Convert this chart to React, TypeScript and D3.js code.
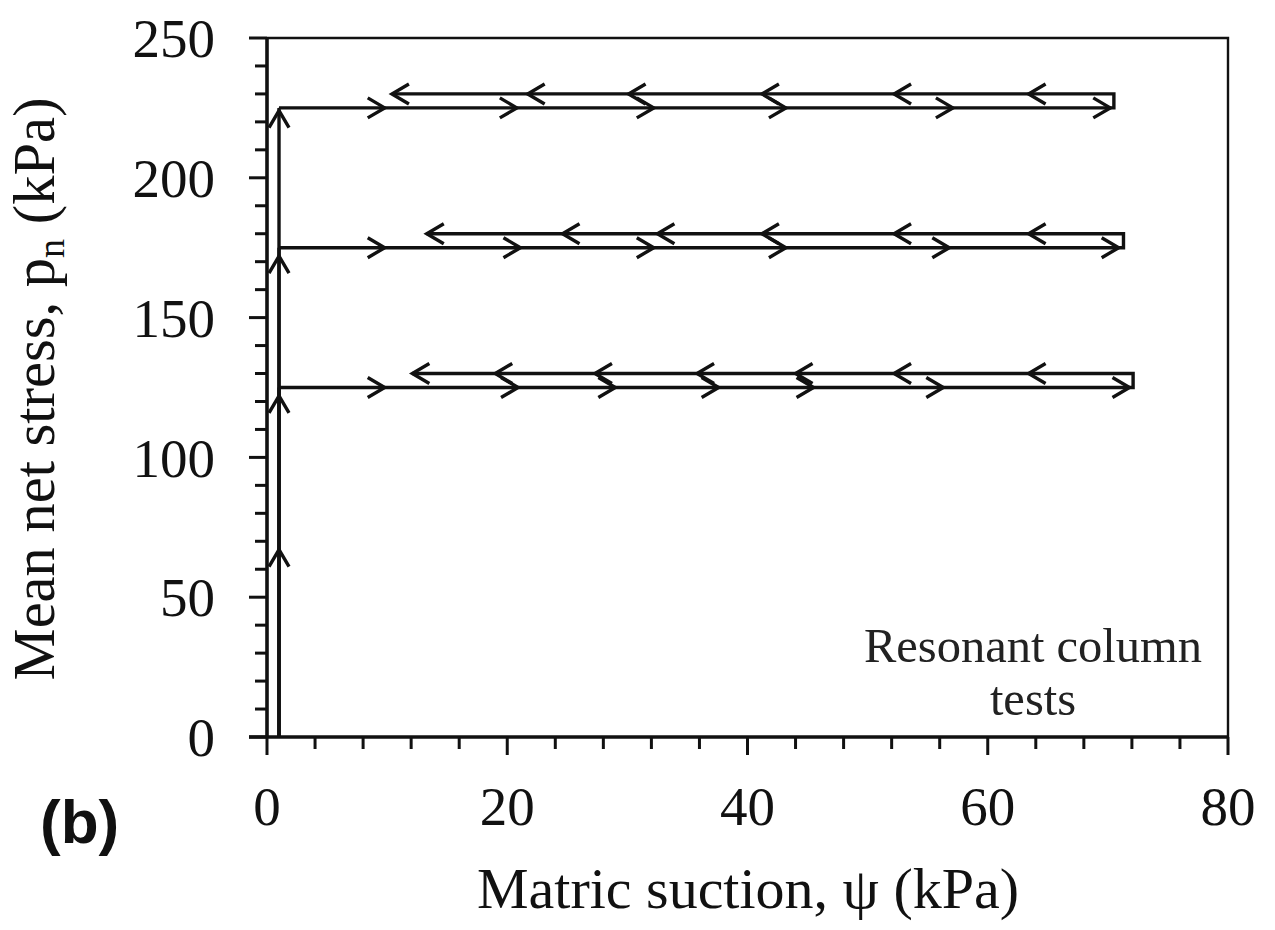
import React from "react";
import * as d3 from "d3";

// ---- data ----
const netStressLevels = [125, 175, 225]; // kPa, loading / drying paths
const returnStressLevels = [130, 180, 230]; // kPa, wetting path drawn slightly offset
const loadingSuction = 1; // kPa
const maxSuction = [72.1, 71.3, 70.5]; // kPa
const minReturnSuction = [12.1, 13.3, 10.4]; // kPa
const loadingArrowStress = [67, 122, 172, 224]; // kPa
const dryingArrowSuction = [
  [9.8, 20.9, 29.0, 37.6, 45.5, 56.3, 71.8],
  [9.8, 21.1, 32.2, 43.2, 56.8, 70.9],
  [9.8, 20.8, 32.2, 43.2, 57.1, 70.2],
];
const wettingArrowSuction = [
  [12.1, 19.0, 27.3, 35.8, 44.0, 52.2, 63.4],
  [13.3, 24.6, 32.5, 41.2, 52.2, 63.4],
  [10.4, 21.7, 30.1, 41.2, 52.2, 63.4],
];
const xMajorTicks = [0, 20, 40, 60, 80];
const yMajorTicks = [0, 50, 100, 150, 200, 250];
const xMinorStep = 4;
const yMinorStep = 10;

const W = 1275;
const H = 930;
const left = 267;
const right = 1228;
const top = 38;
const bottom = 737;

const serif = "'Liberation Serif', 'Times New Roman', serif";

export default function App() {
  const x = d3.scaleLinear().domain([0, 80]).range([left, right]);
  const y = d3.scaleLinear().domain([0, 250]).range([bottom, top]);
  const line = d3
    .line<[number, number]>()
    .x((d) => x(d[0]))
    .y((d) => y(d[1]));

  const xMinor = d3.range(0, 80 + 0.001, xMinorStep);
  const yMinor = d3.range(0, 250 + 0.001, yMinorStep);

  const chevron = (px: number, py: number, ux: number, uy: number) => {
    const L = 17;
    const Wd = 10;
    const nx = -uy;
    const ny = ux;
    const ax = px - L * ux + Wd * nx;
    const ay = py - L * uy + Wd * ny;
    const bx = px - L * ux - Wd * nx;
    const by = py - L * uy - Wd * ny;
    return `M${ax},${ay}L${px},${py}L${bx},${by}`;
  };

  const sw = 3.4;

  return (
    <svg
      width={W}
      height={H}
      style={{ position: "absolute", left: 0, top: 0, background: "#fff" }}
    >
      <rect x={0} y={0} width={W} height={H} fill="#fff" />
      {/* frame */}
      <path
        d={`M${left},${top}L${right},${top}L${right},${bottom}`}
        fill="none"
        stroke="#111"
        strokeWidth={2.4}
      />
      {/* axes */}
      <line x1={left} y1={top - 1} x2={left} y2={bottom} stroke="#111" strokeWidth={3.6} />
      <line x1={left - 18} y1={bottom} x2={right} y2={bottom} stroke="#111" strokeWidth={3.6} />
      {/* y ticks */}
      {yMinor.map((v) => {
        const major = yMajorTicks.includes(Math.round(v));
        return (
          <line
            key={"yt" + v}
            x1={left - (major ? 18 : 12)}
            x2={left}
            y1={y(v)}
            y2={y(v)}
            stroke="#111"
            strokeWidth={3}
          />
        );
      })}
      {/* x ticks */}
      {xMinor.map((v) => {
        const major = xMajorTicks.includes(Math.round(v));
        return (
          <line
            key={"xt" + v}
            x1={x(v)}
            x2={x(v)}
            y1={bottom}
            y2={bottom + (major ? 18 : 12)}
            stroke="#111"
            strokeWidth={3}
          />
        );
      })}
      {/* tick labels */}
      {yMajorTicks.map((v) => (
        <text
          key={"yl" + v}
          x={215}
          y={y(v)}
          dy="0.35em"
          textAnchor="end"
          fontFamily={serif}
          fontSize={55}
          fill="#111"
        >
          {v}
        </text>
      ))}
      {xMajorTicks.map((v) => (
        <text
          key={"xl" + v}
          x={x(v)}
          y={825}
          textAnchor="middle"
          fontFamily={serif}
          fontSize={55}
          fill="#111"
        >
          {v}
        </text>
      ))}
      {/* axis titles */}
      <text
        x={748}
        y={908}
        textAnchor="middle"
        fontFamily={serif}
        fontSize={58}
        fill="#111"
      >
        Matric suction, ψ (kPa)
      </text>
      <text
        transform={`translate(54,389) rotate(-90)`}
        textAnchor="middle"
        fontFamily={serif}
        fontSize={58.5}
        fill="#111"
      >
        Mean net stress, p
        <tspan fontSize={38} dy={10}>n</tspan>
        <tspan dy={-10}> (kPa)</tspan>
      </text>
      <text
        x={40}
        y={843}
        fontFamily="'Liberation Sans', Arial, sans-serif"
        fontWeight="bold"
        fontSize={62}
        fill="#111"
      >
        (b)
      </text>
      {/* annotation */}
      <text
        x={1033}
        y={662}
        textAnchor="middle"
        fontFamily={serif}
        fontSize={48.5}
        fill="#222"
      >
        Resonant column
      </text>
      <text
        x={1033}
        y={715}
        textAnchor="middle"
        fontFamily={serif}
        fontSize={48.5}
        fill="#222"
      >
        tests
      </text>

      {/* stress paths */}
      {netStressLevels.map((p, i) => (
        <g key={"path" + i} fill="none" stroke="#111" strokeWidth={sw}>
          <path
            d={
              line([
                [loadingSuction, 0],
                [loadingSuction, p],
              ]) || ""
            }
          />
          <path
            d={
              line([
                [loadingSuction, p],
                [maxSuction[i], p],
                [maxSuction[i], returnStressLevels[i]],
                [minReturnSuction[i], returnStressLevels[i]],
              ]) || ""
            }
          />
          {dryingArrowSuction[i].map((s, j) => (
            <path key={"d" + j} d={chevron(x(s), y(p), 1, 0)} />
          ))}
          {wettingArrowSuction[i].map((s, j) => (
            <path key={"w" + j} d={chevron(x(s), y(returnStressLevels[i]), -1, 0)} />
          ))}
        </g>
      ))}
      <g fill="none" stroke="#111" strokeWidth={sw}>
        {loadingArrowStress.map((p, j) => (
          <path key={"l" + j} d={chevron(x(loadingSuction), y(p), 0, -1)} />
        ))}
      </g>
    </svg>
  );
}
